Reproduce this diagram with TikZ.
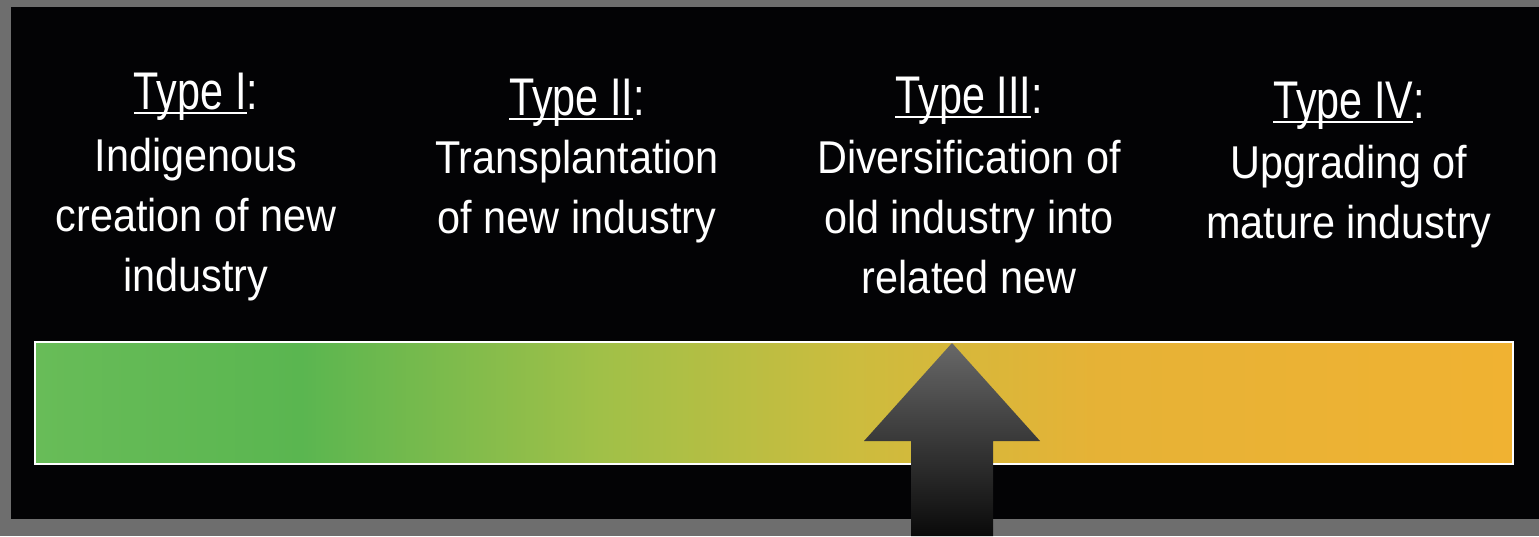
\documentclass[tikz,border=0pt]{standalone}
\usepackage{fontspec}
\setmainfont{Liberation Sans}
\newfontfamily\headfont[FakeStretch=0.78]{Liberation Sans}
\newfontfamily\bodyfont[FakeStretch=0.9]{Liberation Sans}

\definecolor{framegray}{HTML}{6E6E6E}
\definecolor{slide}{HTML}{030305}
\definecolor{barA}{HTML}{68BC58}
\definecolor{barB}{HTML}{5AB650}
\definecolor{barC}{HTML}{A0C048}
\definecolor{barD}{HTML}{CCBC3E}
\definecolor{barE}{HTML}{E6B236}
\definecolor{barF}{HTML}{F0B232}
\definecolor{arrowtop}{HTML}{686868}
\definecolor{arrowbot}{HTML}{0A0A0A}

\pgfdeclarehorizontalshading{barshade}{100bp}{color(0bp)=(barA); color(25bp)=(barA);
  color(34bp)=(barB); color(44.1bp)=(barC); color(52.6bp)=(barD);
  color(61bp)=(barE); color(75bp)=(barF); color(100bp)=(barF)}

% underline that cuts through the descenders
\newcommand{\typeline}[1]{\setbox0=\hbox{#1}\rlap{\rule[-5pt]{\wd0}{2.5pt}}\box0}

\begin{document}
\begin{tikzpicture}[x=1pt,y=-1pt,
    head/.style={text=white,inner sep=0,anchor=base,
      font=\headfont\fontsize{53}{60}\selectfont},
    body/.style={text=white,inner sep=0,anchor=north,align=center,
      font=\bodyfont\fontsize{46}{60}\selectfont}]
  \useasboundingbox (0,0) rectangle (1539,536);
  \fill[framegray] (0,0) rectangle (1539,536);
  \fill[slide] (11,7) rectangle (1545,519);

  \node[head] (h1) at (196,109) {\typeline{Type I}:};
  \node[body] (b1) at (196,138) {Indigenous\\creation of new\\industry};

  \node[head] (h2) at (577,115) {\typeline{Type II}:};
  \node[body] (b2) at (577,140) {Transplantation\\of new industry};

  \node[head] (h3) at (969,113) {\typeline{Type III}:};
  \node[body] (b3) at (969,140) {Diversification of\\old industry into\\related new};

  \node[head] (h4) at (1349,118) {\typeline{Type IV}:};
  \node[body] (b4) at (1349,145) {Upgrading of\\mature industry};

  % the scale bar
  \shade[shading=barshade] (35,342) rectangle (1513,464);
  \draw[white,line width=2pt] (35,342) rectangle (1513,464);

  % the marker
  \shade[top color=arrowtop,bottom color=arrowbot]
    (952,343) -- (1040,441) -- (993,441) -- (993,536)
    -- (911,536) -- (911,441) -- (864,441) -- cycle;
\end{tikzpicture}
\end{document}
